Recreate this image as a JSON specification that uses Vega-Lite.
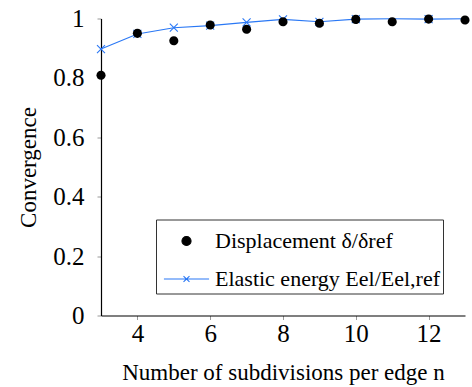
{
  "$schema": "https://vega.github.io/schema/vega-lite/v6.json",
  "width": 364,
  "height": 297,
  "autosize": {"type": "none"},
  "padding": {"left": 101, "top": 18.5, "right": 7, "bottom": 71.5},
  "background": "white",
  "config": {"view": {"stroke": null}, "font": "Liberation Serif"},
  "data": {
    "values": [
      {"n": 3, "series": "Displacement", "value": 0.809},
      {"n": 4, "series": "Displacement", "value": 0.950},
      {"n": 5, "series": "Displacement", "value": 0.925},
      {"n": 6, "series": "Displacement", "value": 0.978},
      {"n": 7, "series": "Displacement", "value": 0.964},
      {"n": 8, "series": "Displacement", "value": 0.989},
      {"n": 9, "series": "Displacement", "value": 0.984},
      {"n": 10, "series": "Displacement", "value": 0.997},
      {"n": 11, "series": "Displacement", "value": 0.989},
      {"n": 12, "series": "Displacement", "value": 0.998},
      {"n": 13, "series": "Displacement", "value": 0.995},
      {"n": 3, "series": "Elastic energy", "value": 0.897},
      {"n": 4, "series": "Elastic energy", "value": 0.948},
      {"n": 5, "series": "Elastic energy", "value": 0.969},
      {"n": 6, "series": "Elastic energy", "value": 0.976},
      {"n": 7, "series": "Elastic energy", "value": 0.987},
      {"n": 8, "series": "Elastic energy", "value": 0.997},
      {"n": 9, "series": "Elastic energy", "value": 0.989},
      {"n": 10, "series": "Elastic energy", "value": 0.998},
      {"n": 11, "series": "Elastic energy", "value": 0.999},
      {"n": 12, "series": "Elastic energy", "value": 0.998},
      {"n": 13, "series": "Elastic energy", "value": 0.999}
    ]
  },
  "encoding": {
    "x": {
      "field": "n",
      "type": "quantitative",
      "scale": {"domain": [3, 13], "nice": false, "zero": false},
      "axis": {
        "values": [4, 6, 8, 10, 12],
        "title": "Number of subdivisions per edge n",
        "grid": false,
        "domainColor": "black",
        "domainWidth": 1.2,
        "tickColor": "#999999",
        "tickSize": 4,
        "tickWidth": 1,
        "labelFont": "Liberation Serif",
        "labelFontSize": 25,
        "labelColor": "black",
        "labelPadding": 2,
        "labelFlush": false,
        "labelOverlap": false,
        "titleFont": "Liberation Serif",
        "titleFontSize": 23,
        "titleFontWeight": "normal",
        "titleColor": "black",
        "titlePadding": 15,
        "encode": {"ticks": {"update": {"y": {"value": -4}}}}
      }
    },
    "y": {
      "field": "value",
      "type": "quantitative",
      "scale": {"domain": [0, 1], "nice": false},
      "axis": {
        "values": [0, 0.2, 0.4, 0.6, 0.8, 1],
        "format": "~g",
        "title": "Convergence",
        "grid": false,
        "domainColor": "black",
        "domainWidth": 1.2,
        "tickColor": "#999999",
        "tickSize": 4,
        "tickWidth": 1,
        "labelFont": "Liberation Serif",
        "labelFontSize": 25,
        "labelColor": "black",
        "labelPadding": 13,
        "labelOverlap": false,
        "titleFont": "Liberation Serif",
        "titleFontSize": 23,
        "titleFontWeight": "normal",
        "titleColor": "black",
        "titlePadding": 12,
        "encode": {"ticks": {"update": {"x": {"value": 4}}}}
      }
    }
  },
  "layer": [
    {
      "transform": [{"filter": "datum.series === 'Elastic energy'"}],
      "mark": {"type": "line", "color": "#2a78f5", "strokeWidth": 1.1}
    },
    {
      "transform": [{"filter": "datum.series === 'Elastic energy' && datum.n != 11 && datum.n != 13"}],
      "mark": {"type": "point", "shape": "M-1,-1L1,1M-1,1L1,-1", "size": 64, "filled": false, "color": "#2a78f5", "strokeWidth": 1.1, "opacity": 1}
    },
    {
      "transform": [{"filter": "datum.series === 'Displacement'"}],
      "mark": {"type": "point", "size": 1225, "filled": true, "opacity": 1},
      "encoding": {
        "color": {
          "field": "series",
          "type": "nominal",
          "scale": {"domain": ["Displacement", "Elastic energy"], "range": ["black", "#2a78f5"]},
          "legend": {
            "title": null,
            "orient": "bottom-right",
            "offset": 22,
            "padding": 3,
            "symbolOffset": 9,
            "symbolSize": 1225,
            "symbolOpacity": 1,
            "symbolStrokeWidth": 1.1,
            "labelOffset": 10,
            "rowPadding": 8,
            "strokeColor": "#333333",
            "fillColor": "white",
            "cornerRadius": 0,
            "labelFont": "Liberation Serif",
            "labelFontSize": 22,
            "labelColor": "black",
            "labelLimit": 400,
            "labelExpr": "datum.value === 'Displacement' ? 'Displacement δ/δref' : 'Elastic energy Eel/Eel,ref'"
          }
        },
        "shape": {
          "field": "series",
          "type": "nominal",
          "scale": {"domain": ["Displacement", "Elastic energy"], "range": ["M-0.26,0A0.26,0.26 0 1,0 0.26,0A0.26,0.26 0 1,0 -0.26,0Z", "M-1.29,0H1.29M-0.17,-0.17L0.17,0.17M-0.17,0.17L0.17,-0.17"]},
          "legend": {
            "title": null,
            "orient": "bottom-right",
            "offset": 22,
            "padding": 3,
            "symbolOffset": 9,
            "symbolSize": 1225,
            "symbolOpacity": 1,
            "symbolStrokeWidth": 1.1,
            "labelOffset": 10,
            "rowPadding": 8,
            "strokeColor": "#333333",
            "fillColor": "white",
            "cornerRadius": 0,
            "labelFont": "Liberation Serif",
            "labelFontSize": 22,
            "labelColor": "black",
            "labelLimit": 400,
            "labelExpr": "datum.value === 'Displacement' ? 'Displacement δ/δref' : 'Elastic energy Eel/Eel,ref'"
          }
        }
      }
    },
    {
      "transform": [{"filter": "datum.series === 'Elastic energy'"}],
      "mark": {"type": "point", "size": 1225, "filled": false, "opacity": 0},
      "encoding": {
        "color": {"field": "series", "type": "nominal"},
        "shape": {"field": "series", "type": "nominal"}
      }
    },
    {
      "data": {"values": [{}]},
      "mark": {"type": "point", "shape": "M-0.9,0.9Q-0.3,0.3 0,-0.4Q0.3,0.3 0.9,0.9", "size": 64, "filled": false, "color": "black", "strokeWidth": 1.2, "opacity": 1},
      "encoding": {"x": {"datum": 3, "type": "quantitative"}, "y": {"datum": 1, "type": "quantitative"}}
    },
    {
      "data": {"values": [{}]},
      "mark": {"type": "point", "shape": "M-0.9,-0.9Q-0.3,-0.3 0.4,0Q-0.3,0.3 -0.9,0.9", "size": 64, "filled": false, "color": "black", "strokeWidth": 1.2, "opacity": 1},
      "encoding": {"x": {"datum": 13, "type": "quantitative"}, "y": {"datum": 0, "type": "quantitative"}}
    }
  ]
}
